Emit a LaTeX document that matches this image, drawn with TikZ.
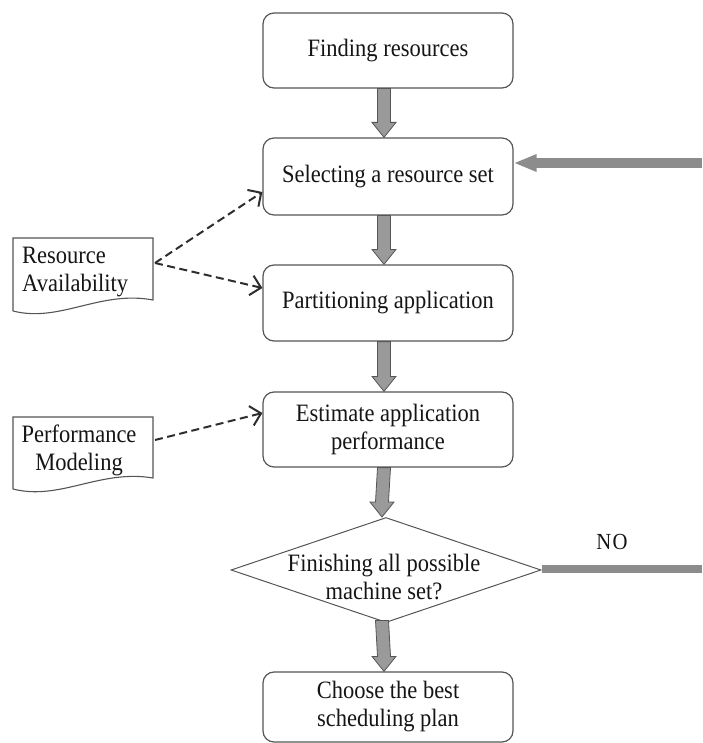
\documentclass[tikz,border=0pt]{standalone}
\usepackage{fontspec}
\setmainfont{Liberation Serif}[FakeStretch=0.9]
\usetikzlibrary{arrows.meta,calc,shapes.geometric}
\definecolor{boxline}{HTML}{555555}
\definecolor{arrfill}{HTML}{9A9A9A}
\definecolor{arrline}{HTML}{555555}
\definecolor{flowgray}{HTML}{8C8C8C}
\definecolor{dashc}{HTML}{2E2E2E}
\definecolor{txtc}{HTML}{151515}
\newcommand\grayarrow[2]{%
  \draw[garrow] ($(#1.south)+(-10.5,0)$) -- ($(#2.north)+(-10.5,-15)$) -- ($(#2.north)+(-16,-15)$) -- ($(#2.north)+(-4,0)$) -- ($(#2.north)+(8,-15)$) -- ($(#2.north)+(2.5,-15)$) -- ($(#1.south)+(2.5,0)$) -- cycle;}
\begin{document}
\begin{tikzpicture}[x=1pt,y=-1pt,
  every node/.style={font=\fontsize{25}{28}\selectfont, text=txtc},
  stepbox/.style={draw=boxline, line width=1.2pt, rounded corners=11pt, minimum width=250pt, align=center, inner sep=0pt},
  decis/.style={draw=boxline, line width=1pt, shape=diamond, minimum width=310pt, minimum height=105pt, inner sep=0pt},
  garrow/.style={fill=arrfill, draw=arrline, line width=0.8pt, line join=miter},
  feed/.style={draw=flowgray, line width=10pt},
  dashto/.style={draw=dashc, line width=2pt, dash pattern=on 8pt off 4.5pt, -{Straight Barb[length=10pt,width=20pt,line width=2pt]}},
  docshape/.style={draw=boxline, line width=1.1pt, fill=white},
]
\useasboundingbox (0,0) rectangle (702,743);

% process boxes
\node[stepbox, minimum height=75pt] (find) at (388,50.5) {Finding resources};
\node[stepbox, minimum height=77pt] (sel) at (388,176.5) {Selecting a resource set};
\node[stepbox, minimum height=76pt] (part) at (388,303) {Partitioning application};
\node[stepbox, minimum height=75pt] (est) at (388,429.5) {Estimate application\\performance};
\node[decis] (dec) at (386,570) {};
\node[align=center, inner sep=0pt] (dectext) at (384,577) {Finishing all possible\\machine set?};
\node[stepbox, minimum height=70pt] (best) at (388,707) {Choose the best\\scheduling plan};

% gray flow arrows
\grayarrow{find}{sel}
\grayarrow{sel}{part}
\grayarrow{part}{est}
\grayarrow{est}{dec}
\coordinate (decb) at ($(dec.south)+(0,-2.5)$);
\grayarrow{decb}{best}

% feedback arrow and NO line
\coordinate (rin) at (702,163);
\draw[feed, -{Triangle[width=16pt,length=23pt]}] (rin) -- (rin -| sel.east);
\coordinate (nout) at (702,569);
\draw[draw=flowgray, line width=8pt] (dec.east |- nout) -- (nout);
\node[font=\fontsize{23}{26}\selectfont] (no) at (612,542) {N\kern1.5pt O};

% document shapes
\draw[docshape] (13,311) -- (13,238) -- (153,238) -- (153,300) .. controls (100,290) and (60,323) .. (13,311);
\node[anchor=west, align=left, inner sep=0pt] (ra) at (22,272.5) {Resource\\Availability};
\draw[docshape] (13,489) -- (13,417) -- (153,417) -- (153,478) .. controls (100,469) and (60,501) .. (13,489);
\node[align=center, inner sep=0pt] (pm) at (79,450) {Performance\\Modeling};

% dashed arrows
\coordinate (raE) at (155,263);
\coordinate (pmE) at (155,440);
\draw[dashto] (raE) -- ($(sel.west)+(0,15.5)$);
\draw[dashto] (raE) -- ($(part.west)+(0,-15)$);
\draw[dashto] (pmE) -- ($(est.west)+(0,-16.5)$);
\end{tikzpicture}
\end{document}
